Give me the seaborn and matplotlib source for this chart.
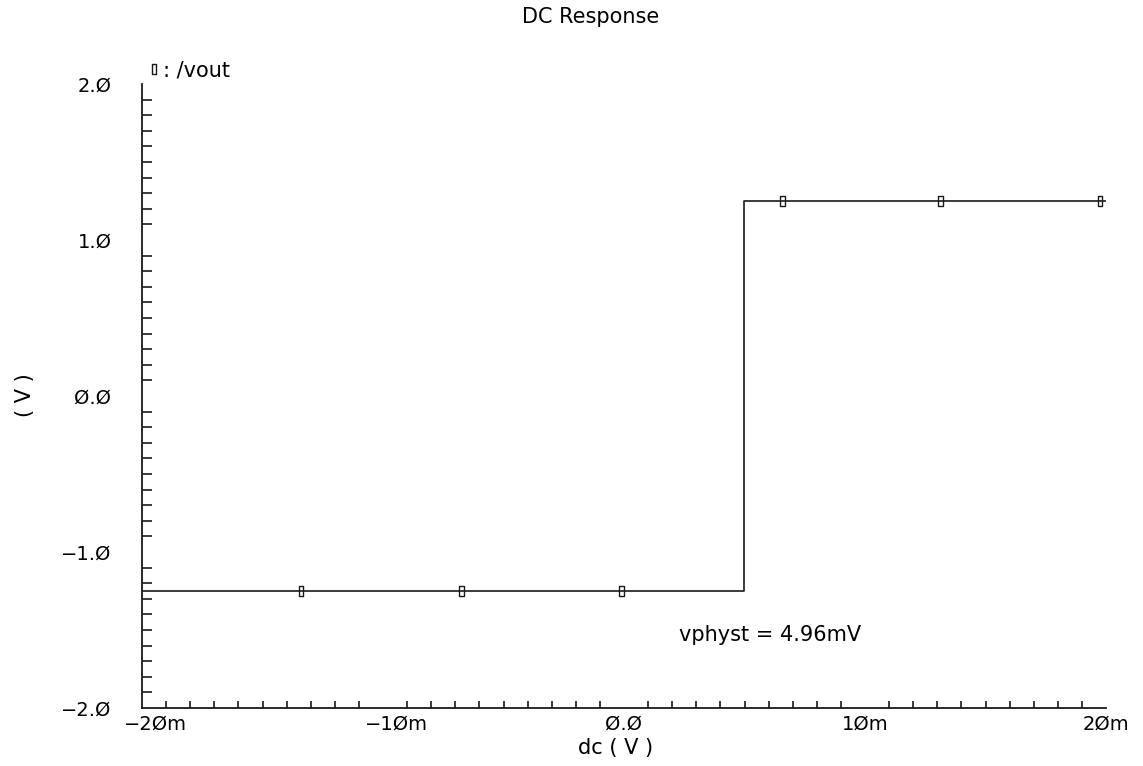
import matplotlib
matplotlib.use("Agg")
import matplotlib.pyplot as plt
from matplotlib.path import Path
from matplotlib.lines import Line2D
from matplotlib.transforms import ScaledTranslation
import seaborn as sns
import pandas as pd
import numpy as np

# ---- data ----
sweep_mV = [-20.0, 4.96, 4.96, 20.0]          # dc sweep (mV)
vout = [-1.25, -1.25, 1.25, 1.25]              # /vout (V)
marker_mV = [-13.4, -6.76, -0.12, 6.56, 13.15, 19.75]
marker_v = [-1.25, -1.25, -1.25, 1.25, 1.25, 1.25]
x_ticks = [-20, -10, 0, 10, 20]
x_ticklabels = ["\u22122Øm", "\u22121Øm", "Ø.Ø", "1Øm", "2Øm"]
y_ticks = [-2, -1, 0, 1, 2]
y_ticklabels = ["\u22122.Ø", "\u22121.Ø", "Ø.Ø", "1.Ø", "2.Ø"]
title = "DC Response"
xlabel = "dc ( V )"
ylabel = "( V )"
series_label = ": /vout"
annotation = "vphyst = 4.96mV"
annot_xy = (2.3, -1.53)

sns.set_theme(style="white")
plt.rcParams['font.family'] = ['DejaVu Sans']
plt.rcParams['text.color'] = 'black'

W, H = 1143, 766
fig = plt.figure(figsize=(W / 100, H / 100), dpi=100)
ax = fig.add_axes([142 / W, 1 - 708 / H, (1106 - 142) / W, (708 - 84) / H])

line_color = "#1a1a1a"
df = pd.DataFrame({"x": sweep_mV, "y": vout})
sns.lineplot(data=df, x="x", y="y", estimator=None, sort=False, ax=ax,
             color=line_color, linewidth=1.2)

rect = Path([(-0.45, -1), (0.45, -1), (0.45, 1), (-0.45, 1), (-0.45, -1)],
            [Path.MOVETO, Path.LINETO, Path.LINETO, Path.LINETO, Path.CLOSEPOLY])
mdf = pd.DataFrame({"x": marker_mV, "y": marker_v})
sns.scatterplot(data=mdf, x="x", y="y", marker=rect, s=60, ax=ax,
                facecolor="none", edgecolor=line_color, linewidth=1.0, zorder=3)

ax.set_xlim(-20, 20)
ax.set_ylim(-2, 2)
ax.set_xticks(x_ticks)
ax.set_xticklabels(x_ticklabels, fontsize=14)
ax.set_yticks(y_ticks)
ax.set_yticklabels(y_ticklabels, fontsize=14)
ax.set_xticks(np.arange(-20, 21, 1), minor=True)
ax.set_yticks(np.arange(-2, 2.01, 0.1), minor=True)
ax.tick_params(axis="x", which="major", direction="in", length=10, width=1.2,
               color=line_color, pad=5, labelcolor="black")
ax.tick_params(axis="x", which="minor", direction="in", length=5, width=1.2,
               color=line_color, bottom=True)
ax.tick_params(axis="y", which="major", direction="in", length=7, width=1.2,
               color=line_color, pad=22, labelcolor="black")
ax.tick_params(axis="y", which="minor", direction="in", length=7, width=1.2,
               color=line_color, left=True)
# negative x labels sit a little right of their ticks in the reference
for val, lab in zip(x_ticks, ax.get_xticklabels()):
    if val < 0:
        lab.set_transform(lab.get_transform() + ScaledTranslation(0.13, 0, fig.dpi_scale_trans))
for s in ["top", "right"]:
    ax.spines[s].set_visible(False)
for s in ["left", "bottom"]:
    ax.spines[s].set_color(line_color)
    ax.spines[s].set_linewidth(1.3)
ax.set_xlabel("")
ax.set_ylabel("")

fig.text(591 / W, 1 - 17 / H, title, ha="center", va="center", fontsize=15, color="black")
fig.text(616 / W, 1 - 748 / H, xlabel, ha="center", va="center", fontsize=15, color="black")
fig.text(25 / W, 1 - 395 / H, ylabel, ha="center", va="center", fontsize=15,
         rotation=90, color="black")
ax.text(annot_xy[0], annot_xy[1], annotation, ha="left", va="center", fontsize=15,
        color="black")

handle = Line2D([], [], linestyle="none", marker=rect, markersize=7,
                markerfacecolor="none", markeredgecolor=line_color, markeredgewidth=1.0)
leg = ax.legend([handle], [series_label], loc="center left",
                bbox_to_anchor=(149 / W, 1 - 70 / H), bbox_transform=fig.transFigure,
                frameon=False, handlelength=0.5, handletextpad=0.15, fontsize=15,
                borderpad=0, borderaxespad=0)
for t in leg.get_texts():
    t.set_color("black")

fig.savefig("out.png", dpi=100, facecolor="white")
